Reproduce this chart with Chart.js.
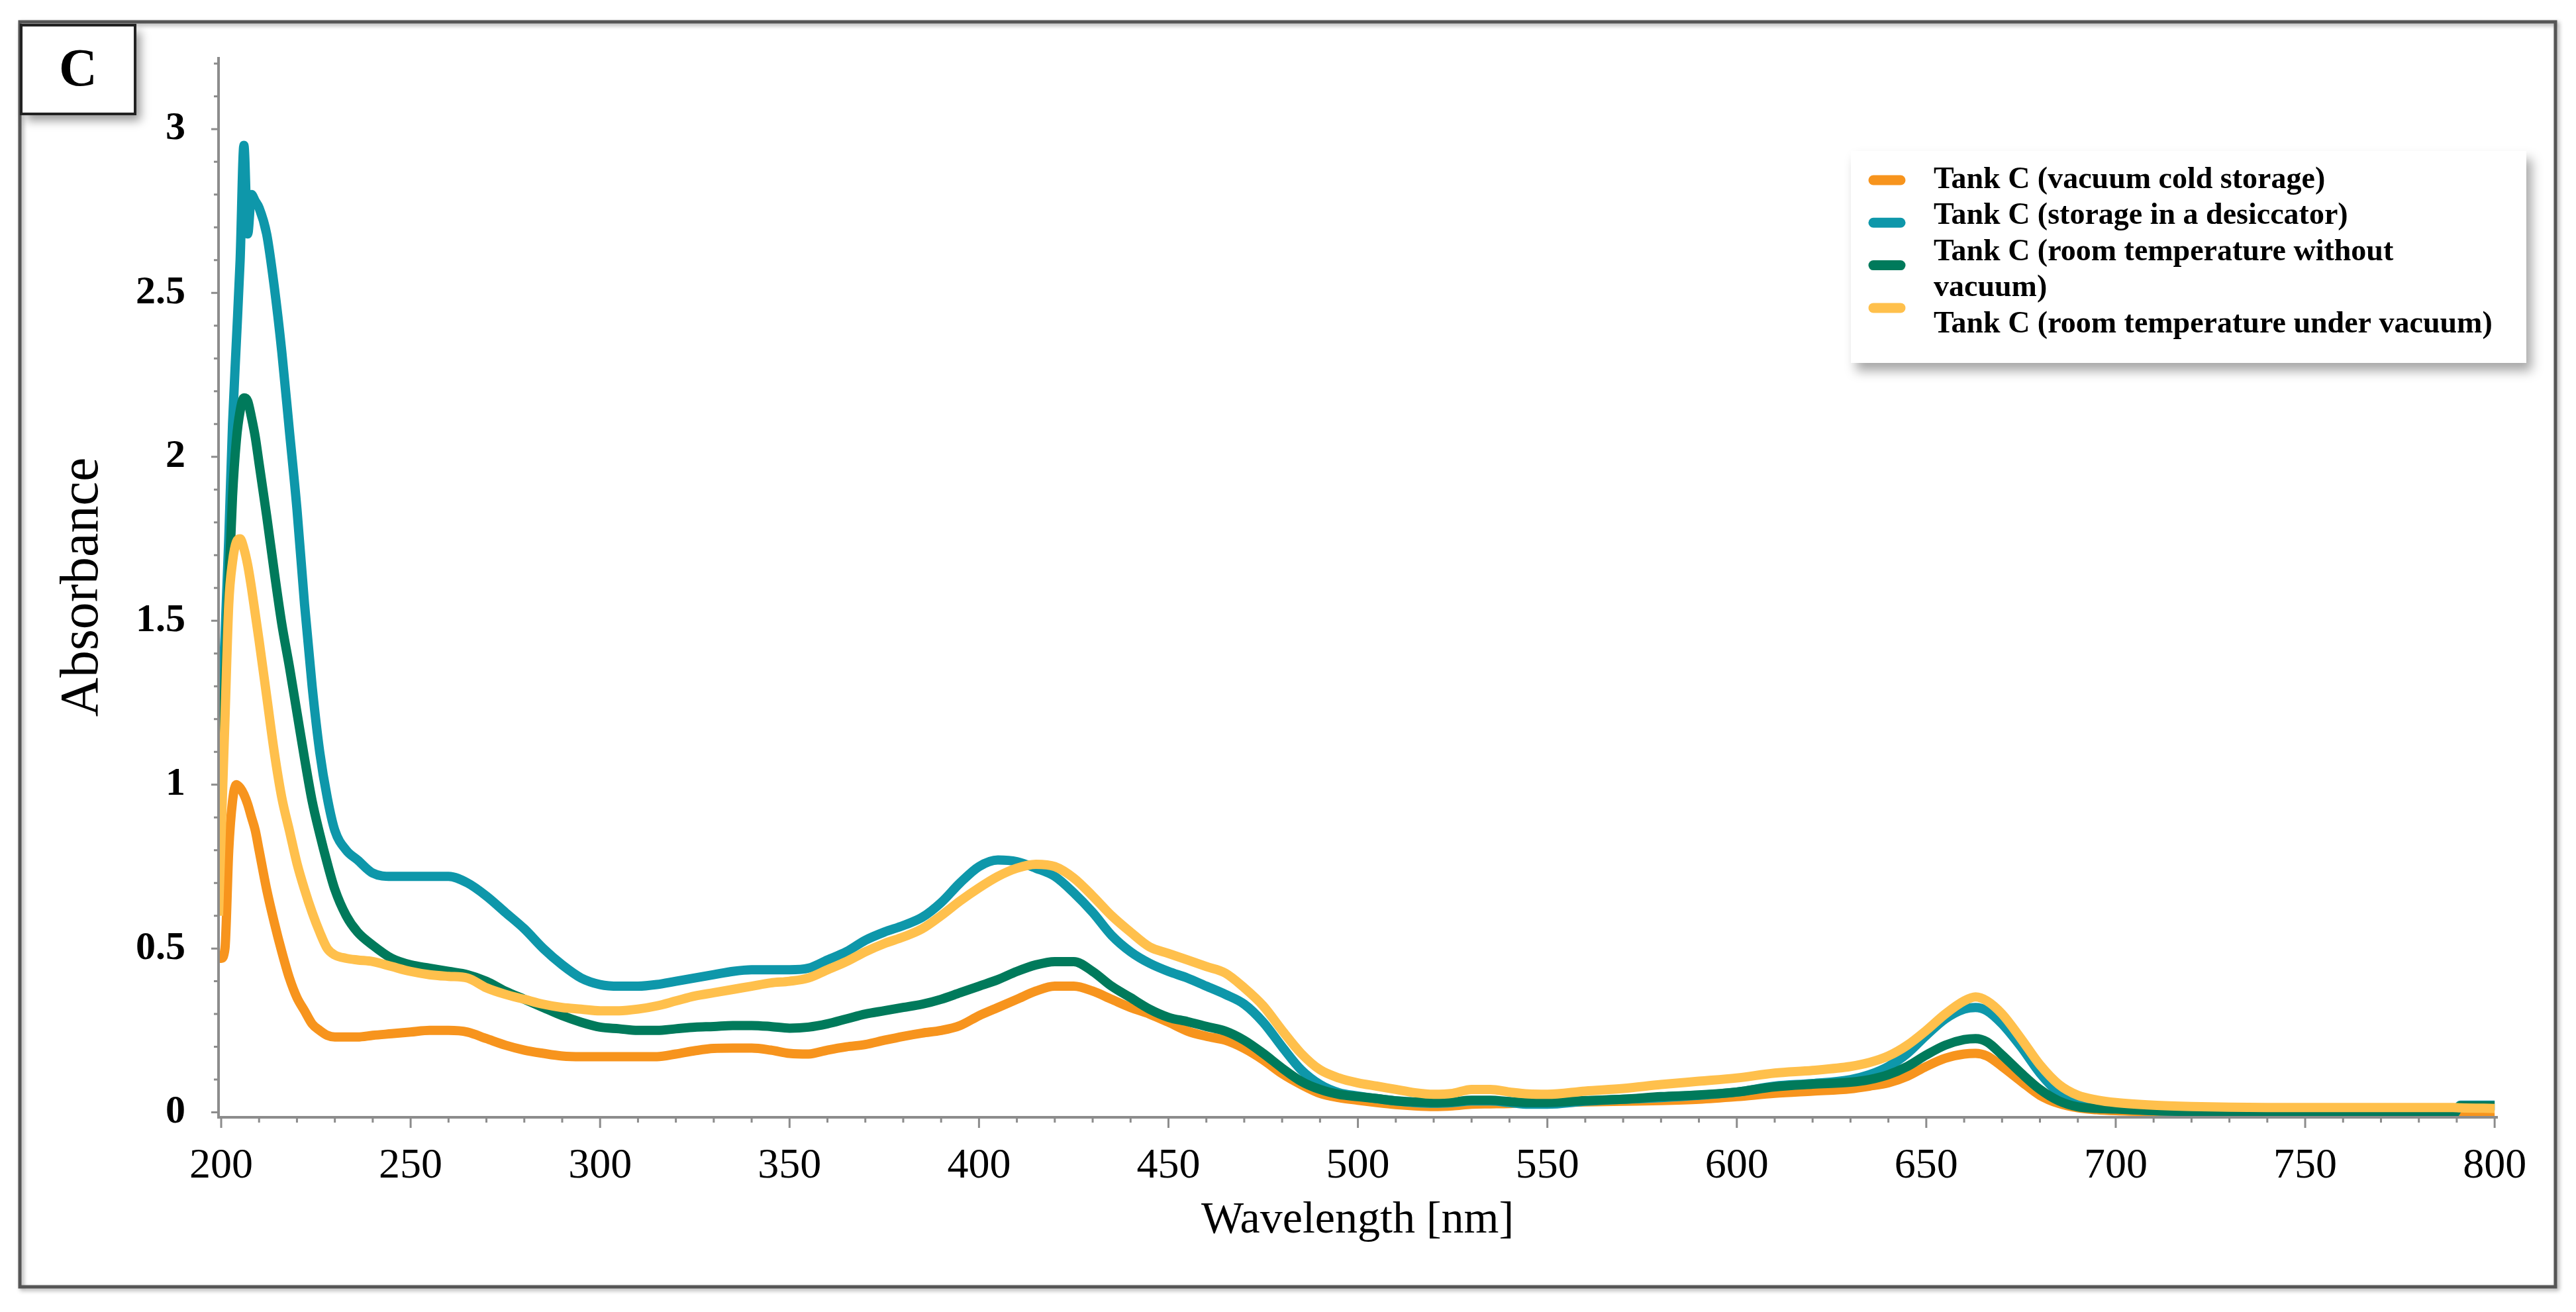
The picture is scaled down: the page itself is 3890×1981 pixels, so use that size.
<!DOCTYPE html>
<html>
<head>
<meta charset="utf-8">
<title>Tank C absorbance</title>
<script src="https://cdn.jsdelivr.net/npm/chart.js@4.4.1/dist/chart.umd.min.js"></script>
<style>
  html, body { margin: 0; padding: 0; background: #fff; }
  #wrap { width: 3890px; height: 1981px; position: relative; }
</style>
</head>
<body>
<div id="wrap"><canvas id="spectra" width="3890" height="1981"></canvas></div>
<script>
// Wavelength grid (nm) shared by all four spectra
const wavelengths = [199.3, 200, 201, 202, 203, 204, 205, 206, 207, 208, 209, 210, 212, 214, 216, 218, 220, 222, 224, 226, 228, 230, 233, 236, 240, 245, 250, 255, 260, 265, 270, 275, 280, 285, 290, 295, 300, 305, 310, 315, 320, 325, 330, 335, 340, 345, 350, 355, 360, 365, 370, 375, 380, 385, 390, 395, 400, 405, 410, 415, 420, 425, 430, 435, 440, 445, 450, 455, 460, 465, 470, 475, 480, 485, 490, 495, 500, 505, 510, 515, 520, 525, 530, 535, 540, 545, 550, 560, 570, 580, 590, 600, 610, 620, 630, 635, 640, 645, 650, 655, 660, 663, 666, 670, 675, 680, 685, 690, 695, 700, 710, 720, 730, 740, 750, 760, 770, 780, 789, 791, 800];

const vacuumCold = [0.47, 0.47, 0.5, 0.8, 0.95, 1.0, 0.99, 0.97, 0.94, 0.9, 0.86, 0.8, 0.68, 0.58, 0.49, 0.41, 0.35, 0.31, 0.27, 0.25, 0.235, 0.23, 0.23, 0.23, 0.235, 0.24, 0.245, 0.25, 0.25, 0.245, 0.225, 0.205, 0.19, 0.18, 0.172, 0.17, 0.17, 0.17, 0.17, 0.17, 0.178, 0.188, 0.195, 0.196, 0.196, 0.19, 0.18, 0.178, 0.19, 0.2, 0.207, 0.22, 0.232, 0.242, 0.25, 0.265, 0.295, 0.32, 0.345, 0.37, 0.385, 0.385, 0.37, 0.345, 0.32, 0.3, 0.275, 0.248, 0.232, 0.22, 0.195, 0.16, 0.118, 0.085, 0.058, 0.045, 0.037, 0.03, 0.024, 0.02, 0.018, 0.02, 0.025, 0.026, 0.027, 0.03, 0.03, 0.032, 0.034, 0.036, 0.04, 0.048, 0.058, 0.065, 0.072, 0.08, 0.09, 0.11, 0.14, 0.165, 0.178, 0.18, 0.172, 0.14, 0.095, 0.052, 0.027, 0.014, 0.008, 0.005, 0.002, 0.0, -0.002, -0.005, -0.005, -0.005, -0.005, -0.005, -0.005, -0.004, -0.003];

const desiccator = [1.0, 1.2, 1.45, 1.75, 2.1, 2.35, 2.6, 2.95, 2.68, 2.8, 2.78, 2.76, 2.68, 2.52, 2.32, 2.08, 1.84, 1.55, 1.3, 1.1, 0.96, 0.86, 0.8, 0.77, 0.73, 0.72, 0.72, 0.72, 0.72, 0.7, 0.66, 0.61, 0.56, 0.5, 0.45, 0.41, 0.39, 0.385, 0.385, 0.39, 0.4, 0.41, 0.42, 0.43, 0.435, 0.435, 0.435, 0.44, 0.465, 0.49, 0.525, 0.55, 0.57, 0.595, 0.64, 0.7, 0.75, 0.77, 0.765, 0.745, 0.72, 0.67, 0.61, 0.54, 0.49, 0.455, 0.43, 0.41, 0.385, 0.36, 0.33, 0.275, 0.2, 0.13, 0.085, 0.06, 0.05, 0.042, 0.035, 0.03, 0.028, 0.03, 0.035, 0.035, 0.03, 0.025, 0.025, 0.034, 0.04, 0.045, 0.052, 0.062, 0.08, 0.088, 0.1, 0.115, 0.14, 0.18, 0.235, 0.285, 0.315, 0.32, 0.31, 0.27, 0.2, 0.12, 0.06, 0.03, 0.018, 0.012, 0.005, 0.002, -0.005, -0.008, -0.008, -0.008, -0.008, -0.008, -0.008, 0.022, 0.022];

const roomNoVacuum = [0.78, 1.0, 1.3, 1.6, 1.88, 2.05, 2.14, 2.18, 2.17, 2.12, 2.06, 1.98, 1.82, 1.65, 1.49, 1.36, 1.22, 1.08, 0.95, 0.85, 0.76, 0.68, 0.6, 0.55, 0.51, 0.47, 0.45, 0.44, 0.43, 0.42, 0.4, 0.37, 0.345, 0.32, 0.295, 0.275, 0.26, 0.255, 0.25, 0.25, 0.255, 0.26, 0.262, 0.265, 0.265, 0.262, 0.257, 0.26, 0.27, 0.285, 0.3, 0.31, 0.32, 0.33, 0.345, 0.365, 0.385, 0.405, 0.43, 0.45, 0.46, 0.46, 0.43, 0.385, 0.35, 0.315, 0.29, 0.277, 0.262, 0.248, 0.22, 0.18, 0.135, 0.095, 0.07, 0.055, 0.048, 0.042, 0.035, 0.032, 0.03, 0.032, 0.037, 0.037, 0.033, 0.03, 0.03, 0.036, 0.04, 0.048, 0.053, 0.062, 0.078, 0.086, 0.092, 0.1, 0.115, 0.14, 0.175, 0.205, 0.222, 0.225, 0.215, 0.175, 0.12, 0.07, 0.035, 0.017, 0.012, 0.01, 0.005, 0.002, -0.003, -0.006, -0.006, -0.006, -0.006, -0.006, -0.006, 0.02, 0.02];

const roomVacuum = [0.6, 0.85, 1.2, 1.55, 1.68, 1.74, 1.75, 1.72, 1.67, 1.6, 1.52, 1.44, 1.27, 1.1, 0.96, 0.86, 0.76, 0.68, 0.61, 0.55, 0.5, 0.48, 0.47, 0.465, 0.46, 0.445, 0.43, 0.42, 0.415, 0.41, 0.38, 0.36, 0.345, 0.33, 0.32, 0.315, 0.31, 0.31, 0.315, 0.325, 0.34, 0.355, 0.365, 0.375, 0.385, 0.395, 0.4, 0.41, 0.435, 0.46, 0.49, 0.515, 0.535, 0.56, 0.6, 0.645, 0.685, 0.72, 0.745, 0.757, 0.75, 0.715, 0.66, 0.6, 0.55, 0.505, 0.485, 0.465, 0.445, 0.425, 0.38, 0.325, 0.25, 0.18, 0.13, 0.105, 0.09, 0.08, 0.07, 0.06, 0.055, 0.058, 0.07, 0.07, 0.062, 0.056, 0.055, 0.065, 0.073, 0.085, 0.095, 0.105, 0.12, 0.128, 0.14, 0.152, 0.172, 0.205, 0.25, 0.3, 0.34, 0.352, 0.34, 0.3, 0.225, 0.145, 0.085, 0.052, 0.038, 0.03, 0.022, 0.018, 0.016, 0.015, 0.015, 0.015, 0.015, 0.015, 0.015, 0.014, 0.012];

const seriesLabels = [
    'Tank C (vacuum cold storage)',
    'Tank C (storage in a desiccator)',
    'Tank C (room temperature without vacuum)',
    'Tank C (room temperature under vacuum)'
];
const seriesColors = ['#F7941D', '#0E97AA', '#007A5B', '#FFC04C'];
const seriesValues = [vacuumCold, desiccator, roomNoVacuum, roomVacuum];
const drawOrder = [3, 2, 1, 0];   // lower = drawn on top

const xTicks = [200, 250, 300, 350, 400, 450, 500, 550, 600, 650, 700, 750, 800];
const yTicks = [0, 0.5, 1, 1.5, 2, 2.5, 3];
const xMinorStep = 10;
const yMinorStep = 0.1;
const panelLetter = 'C';

const SERIF = "'Liberation Serif', 'Times New Roman', serif";

// frame, panel letter box, axes with minor ticks, legend
const decorations = {
    id: 'decorations',
    beforeDraw(chart) {
        const ctx = chart.ctx;
        ctx.save();
        ctx.fillStyle = '#fff';
        ctx.fillRect(0, 0, chart.width, chart.height);

        // outer frame
        ctx.shadowColor = 'rgba(0,0,0,0.35)';
        ctx.shadowBlur = 6;
        ctx.shadowOffsetX = 3;
        ctx.shadowOffsetY = 3;
        ctx.strokeStyle = '#555';
        ctx.lineWidth = 5;
        ctx.strokeRect(30, 33, 3829, 1910);

        // panel letter box
        ctx.shadowColor = 'rgba(0,0,0,0.4)';
        ctx.shadowBlur = 14;
        ctx.shadowOffsetX = 8;
        ctx.shadowOffsetY = 10;
        ctx.fillStyle = '#fff';
        ctx.fillRect(32, 38, 172, 134);
        ctx.shadowColor = 'transparent';
        ctx.strokeStyle = '#222';
        ctx.lineWidth = 4;
        ctx.strokeRect(32, 38, 172, 134);
        ctx.fillStyle = '#000';
        ctx.font = 'bold 80px ' + SERIF;
        ctx.textAlign = 'center';
        ctx.textBaseline = 'middle';
        ctx.fillText(panelLetter, 118, 108);
        ctx.restore();
    },
    afterDatasetsDraw(chart) {
        const ctx = chart.ctx;
        const x = chart.scales.x, y = chart.scales.y;
        const area = chart.chartArea;
        ctx.save();
        ctx.strokeStyle = '#8c8c8c';
        ctx.lineWidth = 4;
        ctx.beginPath();
        ctx.moveTo(area.left, area.top);
        ctx.lineTo(area.left, area.bottom);
        ctx.lineTo(area.right + 2, area.bottom);
        ctx.stroke();

        ctx.lineWidth = 3;
        ctx.beginPath();
        for (let v = xTicks[0]; v <= xTicks[xTicks.length - 1] + 0.01; v += xMinorStep) {
            const px = x.getPixelForValue(v);
            const major = xTicks.some(t => Math.abs(t - v) < 0.01);
            ctx.moveTo(px, area.bottom);
            ctx.lineTo(px, area.bottom + (major ? 16 : 8));
        }
        for (let v = 0; v <= 3.2001; v += yMinorStep) {
            const py = y.getPixelForValue(v);
            const major = yTicks.some(t => Math.abs(t - v) < 0.001);
            ctx.moveTo(area.left, py);
            ctx.lineTo(area.left - (major ? 11 : 7), py);
        }
        ctx.stroke();
        ctx.restore();
    },
    afterDraw(chart) {
        const ctx = chart.ctx;
        ctx.save();
        // legend box with drop shadow
        ctx.shadowColor = 'rgba(0,0,0,0.35)';
        ctx.shadowBlur = 16;
        ctx.shadowOffsetX = 8;
        ctx.shadowOffsetY = 12;
        ctx.fillStyle = '#fff';
        ctx.fillRect(2795, 228, 1020, 320);
        ctx.shadowColor = 'transparent';

        ctx.font = 'bold 46px ' + SERIF;
        ctx.textAlign = 'left';
        ctx.textBaseline = 'middle';
        ctx.fillStyle = '#000';
        const maxW = 850;
        let row = 0;
        chart.data.datasets.forEach((ds, i) => {
            // swatch
            ctx.strokeStyle = ds.borderColor;
            ctx.lineWidth = 15;
            ctx.lineCap = 'round';
            const sy = 272 + i * 64.3;
            ctx.beginPath();
            ctx.moveTo(2829, sy);
            ctx.lineTo(2870, sy);
            ctx.stroke();
            // label, wrapped on words
            const words = ds.label.split(' ');
            let line = '';
            const lines = [];
            words.forEach(w => {
                const test = line ? line + ' ' + w : w;
                if (ctx.measureText(test).width > maxW && line) {
                    lines.push(line);
                    line = w;
                } else {
                    line = test;
                }
            });
            lines.push(line);
            lines.forEach(l => {
                ctx.fillText(l, 2920, 272 + row * 54.5);
                row++;
            });
        });
        ctx.restore();
    }
};

new Chart(document.getElementById('spectra'), {
    type: 'line',
    data: {
        datasets: seriesLabels.map((label, i) => ({
            label: label,
            data: wavelengths.map((w, j) => ({ x: w, y: seriesValues[i][j] })),
            borderColor: seriesColors[i],
            backgroundColor: seriesColors[i],
            borderWidth: 14,
            pointRadius: 0,
            fill: false,
            cubicInterpolationMode: 'monotone',
            borderJoinStyle: 'round',
            order: drawOrder[i]
        }))
    },
    plugins: [decorations],
    options: {
        responsive: false,
        devicePixelRatio: 1,
        animation: false,
        layout: { padding: { left: 0, top: 51, right: 120, bottom: 74 } },
        plugins: {
            legend: { display: false },
            tooltip: { enabled: false }
        },
        scales: {
            x: {
                type: 'linear',
                min: 199.3,
                max: 800.5,
                afterBuildTicks: (axis) => { axis.ticks = xTicks.map(v => ({ value: v })); },
                afterFit: (scale) => { scale.height = 220; },
                grid: { display: false, drawTicks: false },
                border: { display: false },
                ticks: {
                    color: '#000',
                    padding: 36,
                    maxRotation: 0,
                    font: { family: SERIF, size: 64 },
                    callback: (v) => String(v)
                },
                title: {
                    display: true,
                    text: 'Wavelength [nm]',
                    color: '#000',
                    font: { family: SERIF, size: 68 },
                    padding: { top: 0, bottom: 23 }
                }
            },
            y: {
                type: 'linear',
                min: -0.015,
                max: 3.22,
                afterBuildTicks: (axis) => { axis.ticks = yTicks.map(v => ({ value: v })); },
                afterFit: (scale) => { scale.width = 330; },
                grid: { display: false, drawTicks: false },
                border: { display: false },
                ticks: {
                    color: '#000',
                    padding: 50,
                    font: { family: SERIF, size: 60, weight: 'bold' },
                    callback: (v) => String(v)
                },
                title: {
                    display: true,
                    text: 'Absorbance',
                    color: '#000',
                    font: { family: SERIF, size: 82 },
                    padding: { top: 76, bottom: 0 }
                }
            }
        }
    }
});
</script>
</body>
</html>
